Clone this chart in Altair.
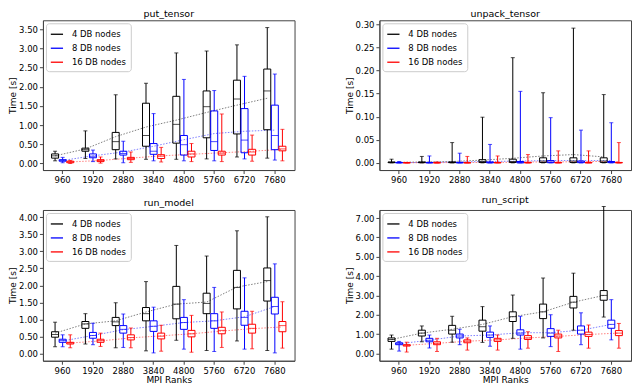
import altair as alt
import pandas as pd

RANKS = ["960", "1920", "2880", "3840", "4800", "5760", "6720", "7680"]
GROUPS = ["4 DB nodes", "8 DB nodes", "16 DB nodes"]
COLORS = ["#000000", "#0000ff", "#ff0000"]

# ---- put_tensor (rows: 4, 8, 16 DB nodes) ----
PUT_LO = [[0.07, 0.13, 0.12, 0.11, 0.11, 0.12, 0.17, 0.14],
          [0.02, 0.05, 0.02, 0.07, 0.07, 0.07, 0.12, 0.09],
          [0.00, 0.01, 0.03, 0.04, 0.05, 0.05, 0.06, 0.07]]
PUT_Q1 = [[0.14, 0.32, 0.36, 0.45, 0.53, 0.67, 0.77, 0.88],
          [0.06, 0.15, 0.22, 0.24, 0.22, 0.34, 0.28, 0.36],
          [0.02, 0.05, 0.10, 0.13, 0.17, 0.22, 0.22, 0.33]]
PUT_MED = [[0.20, 0.36, 0.57, 0.73, 1.02, 1.48, 1.68, 1.89],
           [0.08, 0.19, 0.26, 0.32, 0.49, 0.57, 0.61, 0.73],
           [0.04, 0.08, 0.13, 0.19, 0.25, 0.27, 0.30, 0.38]]
PUT_Q3 = [[0.25, 0.40, 0.81, 1.57, 1.75, 1.89, 2.17, 2.46],
          [0.10, 0.25, 0.32, 0.52, 0.73, 1.37, 1.43, 1.52],
          [0.06, 0.10, 0.16, 0.23, 0.32, 0.32, 0.37, 0.45]]
PUT_HI = [[0.32, 0.85, 1.79, 2.09, 2.88, 2.93, 3.09, 3.54],
          [0.16, 0.35, 0.58, 1.30, 2.19, 1.90, 2.27, 2.33],
          [0.08, 0.17, 0.30, 0.42, 0.52, 1.29, 0.74, 0.89]]
PUT_MEAN = [[0.20, 0.38, 0.70, 0.95, 1.13, 1.33, 1.52, 1.70],
            [0.08, 0.20, 0.30, 0.45, 0.62, 0.78, 0.84, 0.87],
            [0.04, 0.08, 0.14, 0.20, 0.24, 0.28, 0.32, 0.37]]

# ---- unpack_tensor ----
UNP_LO = [[0.0] * 8, [0.0] * 8, [0.0] * 8]
UNP_Q1 = [[0.0005, 0.0005, 0.0005, 0.001, 0.001, 0.001, 0.001, 0.001],
          [0.0, 0.0, 0.0, 0.0, 0.0, 0.0005, 0.0005, 0.0005],
          [0.0, 0.0, 0.0, 0.0, 0.0, 0.0, 0.0, 0.0]]
UNP_MED = [[0.001, 0.001, 0.001, 0.003, 0.003, 0.004, 0.004, 0.004],
           [0.0005, 0.0005, 0.0005, 0.001, 0.001, 0.002, 0.002, 0.001],
           [0.0003, 0.0003, 0.0003, 0.0005, 0.0005, 0.0005, 0.0005, 0.0005]]
UNP_Q3 = [[0.002, 0.002, 0.002, 0.007, 0.008, 0.011, 0.011, 0.011],
          [0.001, 0.001, 0.001, 0.002, 0.003, 0.005, 0.004, 0.003],
          [0.0005, 0.0005, 0.0005, 0.001, 0.001, 0.001, 0.001, 0.001]]
UNP_HI = [[0.008, 0.014, 0.044, 0.099, 0.228, 0.152, 0.292, 0.148],
          [0.003, 0.015, 0.021, 0.040, 0.155, 0.098, 0.071, 0.087],
          [0.001, 0.002, 0.014, 0.015, 0.018, 0.026, 0.026, 0.044]]
UNP_MEAN = [[0.001, 0.002, 0.003, 0.006, 0.010, 0.015, 0.018, 0.013],
            [0.0005, 0.001, 0.002, 0.003, 0.004, 0.005, 0.005, 0.005],
            [0.0003, 0.0005, 0.001, 0.001, 0.002, 0.002, 0.003, 0.003]]

# ---- run_model ----
MOD_LO = [[0.20, 0.28, 0.17, 0.08, 0.39, 0.09, 0.37, 0.09],
          [0.20, 0.26, 0.18, 0.02, 0.13, 0.06, 0.13, 0.02],
          [0.17, 0.21, 0.17, 0.07, 0.04, 0.18, 0.14, 0.16]]
MOD_Q1 = [[0.48, 0.74, 0.82, 0.96, 1.02, 1.17, 1.31, 1.54],
          [0.33, 0.45, 0.60, 0.65, 0.71, 0.74, 0.83, 1.16],
          [0.28, 0.33, 0.40, 0.43, 0.49, 0.58, 0.60, 0.64]]
MOD_MED = [[0.56, 0.87, 0.93, 1.17, 1.45, 1.47, 1.94, 2.14],
           [0.38, 0.53, 0.71, 0.80, 0.91, 0.96, 1.06, 1.38],
           [0.31, 0.38, 0.47, 0.51, 0.58, 0.68, 0.74, 0.82]]
MOD_Q3 = [[0.64, 0.94, 1.06, 1.35, 1.97, 1.77, 2.44, 2.51],
          [0.42, 0.62, 0.82, 0.96, 1.06, 1.17, 1.24, 1.65],
          [0.33, 0.42, 0.55, 0.60, 0.68, 0.77, 0.86, 0.94]]
MOD_HI = [[0.92, 1.17, 1.49, 2.11, 3.17, 2.86, 3.60, 4.01],
          [0.55, 0.89, 1.16, 1.36, 1.58, 1.94, 2.22, 2.63],
          [0.55, 0.60, 0.75, 0.83, 1.12, 1.22, 1.24, 1.52]]
MOD_MEAN = [[0.60, 0.87, 0.96, 1.22, 1.45, 1.51, 1.95, 2.11],
            [0.37, 0.53, 0.70, 0.80, 0.91, 0.96, 1.08, 1.38],
            [0.31, 0.37, 0.46, 0.52, 0.58, 0.66, 0.73, 0.78]]

# ---- run_script ----
SCR_LO = [[0.22, 0.60, 0.58, 0.57, 0.78, 0.80, 1.20, 1.88],
          [0.12, 0.28, 0.45, 0.37, 0.22, 0.35, 0.45, 0.70],
          [0.07, 0.10, 0.17, 0.17, 0.27, 0.10, 0.27, 0.27]]
SCR_Q1 = [[0.62, 0.90, 1.00, 1.15, 1.65, 1.80, 2.35, 2.75],
          [0.45, 0.60, 0.80, 0.83, 0.95, 0.88, 1.00, 1.30],
          [0.38, 0.45, 0.55, 0.62, 0.72, 0.80, 0.88, 0.92]]
SCR_MED = [[0.72, 1.05, 1.20, 1.38, 1.90, 2.15, 2.65, 3.00],
           [0.50, 0.68, 0.90, 0.95, 1.05, 1.05, 1.20, 1.50],
           [0.42, 0.52, 0.63, 0.70, 0.80, 0.90, 0.98, 1.05]]
SCR_Q3 = [[0.80, 1.20, 1.45, 1.72, 2.15, 2.55, 2.95, 3.25],
          [0.55, 0.78, 1.00, 1.10, 1.22, 1.28, 1.42, 1.72],
          [0.45, 0.60, 0.70, 0.78, 0.92, 1.00, 1.10, 1.18]]
SCR_HI = [[0.95, 1.42, 1.92, 2.42, 3.02, 3.90, 4.15, 7.60],
          [0.62, 0.95, 1.25, 1.42, 1.92, 2.00, 2.10, 2.78],
          [0.58, 0.78, 0.80, 0.95, 1.12, 1.20, 1.47, 1.55]]
SCR_MEAN = [[0.72, 1.05, 1.25, 1.50, 1.90, 2.15, 2.65, 3.00],
            [0.50, 0.68, 0.90, 0.95, 1.07, 1.07, 1.20, 1.50],
            [0.42, 0.52, 0.63, 0.70, 0.80, 0.88, 0.98, 1.05]]

PUT_TICKS = [0, 0.5, 1.0, 1.5, 2.0, 2.5, 3.0, 3.5]
UNP_TICKS = [0, 0.05, 0.10, 0.15, 0.20, 0.25, 0.30]
MOD_TICKS = [0, 0.5, 1.0, 1.5, 2.0, 2.5, 3.0, 3.5, 4.0]
SCR_TICKS = [0, 1, 2, 3, 4, 5, 6, 7]


def panel(title, lo, q1, med, q3, hi, mean, domain, ticks, xtitle, w, h):
    rows = []
    for gi, g in enumerate(GROUPS):
        for ri, r in enumerate(RANKS):
            rows.append(dict(rank=r, idx=ri, grp=g, lo=lo[gi][ri], q1=q1[gi][ri],
                             med=med[gi][ri], q3=q3[gi][ri], hi=hi[gi][ri],
                             mean=mean[gi][ri]))
    df = pd.DataFrame(rows)
    base = alt.Chart(df)
    x = alt.X("rank:N", sort=RANKS,
              scale=alt.Scale(paddingInner=0, paddingOuter=0.15),
              axis=alt.Axis(title=xtitle, labelAngle=0, titlePadding=1))
    xo = alt.XOffset("grp:N", sort=GROUPS,
                     scale=alt.Scale(paddingInner=0, paddingOuter=0.5))
    color = alt.Color("grp:N", sort=GROUPS,
                      scale=alt.Scale(domain=GROUPS, range=COLORS),
                      legend=alt.Legend(title=None, orient="top-left",
                                        symbolType="stroke", symbolStrokeWidth=1.3,
                                        symbolSize=150, symbolOpacity=1,
                                        labelFontSize=8.5, labelOffset=8,
                                        strokeColor="#cccccc", fillColor="white",
                                        padding=4, cornerRadius=3, rowPadding=2,
                                        offset=3))
    yscale = alt.Scale(domain=domain, nice=False, zero=False)
    yaxis = alt.Axis(title="Time [s]", values=ticks, format=".2f", titlePadding=1)
    line = base.mark_line(strokeDash=[1.5, 1.5], strokeWidth=1, opacity=0.5).encode(
        x=x, xOffset=xo, y=alt.Y("mean:Q", scale=yscale, axis=yaxis),
        color=color, order="idx:Q")
    wlo = base.mark_rule(strokeWidth=1).encode(
        x=x, xOffset=xo, y=alt.Y("lo:Q", scale=yscale, axis=yaxis), y2="q1:Q", color=color)
    whi = base.mark_rule(strokeWidth=1).encode(
        x=x, xOffset=xo, y=alt.Y("q3:Q", scale=yscale, axis=yaxis), y2="hi:Q", color=color)
    caplo = base.mark_tick(orient="horizontal", size=4, thickness=1).encode(
        x=x, xOffset=xo, y=alt.Y("lo:Q", scale=yscale, axis=yaxis), color=color)
    caphi = base.mark_tick(orient="horizontal", size=4, thickness=1).encode(
        x=x, xOffset=xo, y=alt.Y("hi:Q", scale=yscale, axis=yaxis), color=color)
    box = base.mark_bar(size=7, filled=False, strokeWidth=1).encode(
        x=x, xOffset=xo, y=alt.Y("q1:Q", scale=yscale, axis=yaxis), y2="q3:Q", color=color)
    medt = base.mark_tick(orient="horizontal", size=7, thickness=1).encode(
        x=x, xOffset=xo, y=alt.Y("med:Q", scale=yscale, axis=yaxis), color=color)
    return alt.layer(line, wlo, whi, caplo, caphi, box, medt).properties(
        width=w, height=h, title=title)


p1 = panel("put_tensor", PUT_LO, PUT_Q1, PUT_MED, PUT_Q3, PUT_HI, PUT_MEAN,
           [-0.17, 3.73], PUT_TICKS, None, 252, 150)
p2 = panel("unpack_tensor", UNP_LO, UNP_Q1, UNP_MED, UNP_Q3, UNP_HI, UNP_MEAN,
           [-0.0155, 0.309], UNP_TICKS, None, 252, 150)
p3 = panel("run_model", MOD_LO, MOD_Q1, MOD_MED, MOD_Q3, MOD_HI, MOD_MEAN,
           [-0.21, 4.21], MOD_TICKS, "MPI Ranks", 252, 151)
p4 = panel("run_script", SCR_LO, SCR_Q1, SCR_MED, SCR_Q3, SCR_HI, SCR_MEAN,
           [-0.38, 7.42], SCR_TICKS, "MPI Ranks", 252, 151)

chart = alt.concat(p1, p2, p3, p4, columns=2,
                   spacing={"row": 9, "column": 49}).resolve_scale(
    color="independent").properties(
    padding={"left": 0, "top": 0, "right": 0, "bottom": 0}
).configure(font="DejaVu Sans").configure_view(
    stroke="#444444", strokeWidth=1
).configure_axis(
    grid=False, domainColor="#444444", tickColor="#444444", labelColor="#000000",
    titleColor="#000000", labelFontSize=8.5, titleFontSize=9, tickSize=3.5,
    labelPadding=2, titleFontWeight="normal", labelFont="DejaVu Sans",
    titleFont="DejaVu Sans"
).configure_title(fontSize=9.5, fontWeight="normal", offset=2, font="DejaVu Sans"
).configure_legend(labelFont="DejaVu Sans")

chart.save("out.html", embed_options={"renderer": "svg", "actions": False})
